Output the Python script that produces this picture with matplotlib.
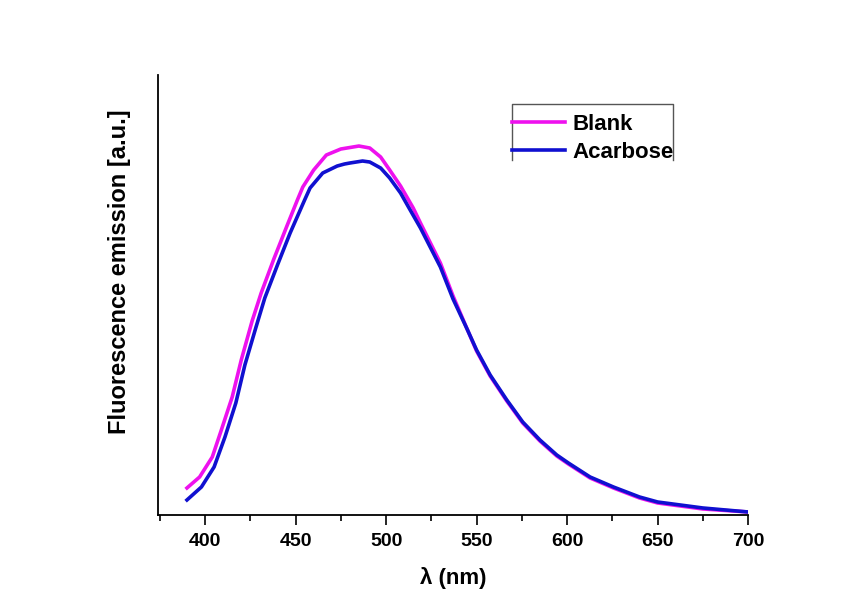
import matplotlib
matplotlib.use("Agg")
import matplotlib.pyplot as plt
from matplotlib.lines import Line2D
from matplotlib.ticker import MultipleLocator

# emission spectra (arbitrary units)
wl_blank = [390, 397, 404, 409, 415, 420, 426, 431, 438, 445, 451, 454, 460,
            467, 475, 485, 491, 497, 502, 508, 515, 519, 530, 537, 545, 550,
            557.5, 566.7, 575.5, 585, 594.3, 600.7, 612.7, 625.6, 640, 650,
            675, 700]
blank = [27, 38, 58, 85, 118, 155, 194, 222, 256, 288, 315, 328, 345,
         360, 366, 369, 367, 358, 345, 329, 307, 292, 252, 219, 185, 164,
         139, 114, 92, 74, 59, 51, 37, 27, 17, 12,
         6, 3]

wl_acarbose = [390, 398, 405, 411, 417, 422, 428, 433, 440, 447, 455, 458,
               465, 473, 477, 480, 487, 491, 497, 502, 508, 513, 519, 530,
               537, 545, 550, 557.5, 566.7, 575.5, 585, 594.3, 600.7, 612.7,
               625.6, 640, 650, 675, 700]
acarbose = [15, 28, 48, 78, 112, 150, 187, 217, 250, 282, 315, 327,
            342, 349, 351, 352, 354, 353, 347, 337, 322, 306, 287, 248,
            216, 185, 165, 140, 115, 93, 75, 60, 52, 38,
            28, 18, 13, 7, 3]

plt.rcParams['font.family'] = 'Liberation Sans'
plt.rcParams['font.weight'] = 'bold'

fig = plt.figure(figsize=(8.54, 6.07), dpi=100)
ax = fig.add_axes([0.185, 0.1516, 0.691, 0.7248])

ax.plot(wl_blank, blank, color='#ee11ee', lw=2.6, label='Blank')
ax.plot(wl_acarbose, acarbose, color='#1010d0', lw=2.6, label='Acarbose')

ax.set_xlim(374, 700)
ax.set_ylim(0, 440)
ax.xaxis.set_major_locator(MultipleLocator(50))
ax.xaxis.set_minor_locator(MultipleLocator(25))
ax.tick_params(axis='x', which='major', direction='out', length=7, width=1.2,
               labelsize=14, pad=6)
ax.tick_params(axis='x', which='minor', direction='out', length=4, width=1.2)
ax.set_yticks([])
for side in ('top', 'right'):
    ax.spines[side].set_visible(False)
for side in ('left', 'bottom'):
    ax.spines[side].set_linewidth(1.3)

ax.set_xlabel('λ (nm)', fontsize=16, fontweight='bold', labelpad=12)
ax.set_ylabel('Fluorescence emission [a.u.]', fontsize=17, fontweight='bold')
ax.yaxis.set_label_coords(-0.046, 0.552)

leg = ax.legend(loc='upper left', bbox_to_anchor=(0.600, 0.911), frameon=False,
                fontsize=16, handlelength=2.4, handletextpad=0.3,
                borderaxespad=0, borderpad=0.0, labelspacing=0.3)
for t in leg.get_texts():
    t.set_fontweight('bold')

# open-bottomed box around the legend
box = dict(color='#555555', lw=1.0, transform=ax.transAxes, clip_on=False)
ax.add_line(Line2D([0.600, 0.600, 0.873, 0.873], [0.807, 0.934, 0.934, 0.807], **box))

fig.savefig('out.png', dpi=100)
